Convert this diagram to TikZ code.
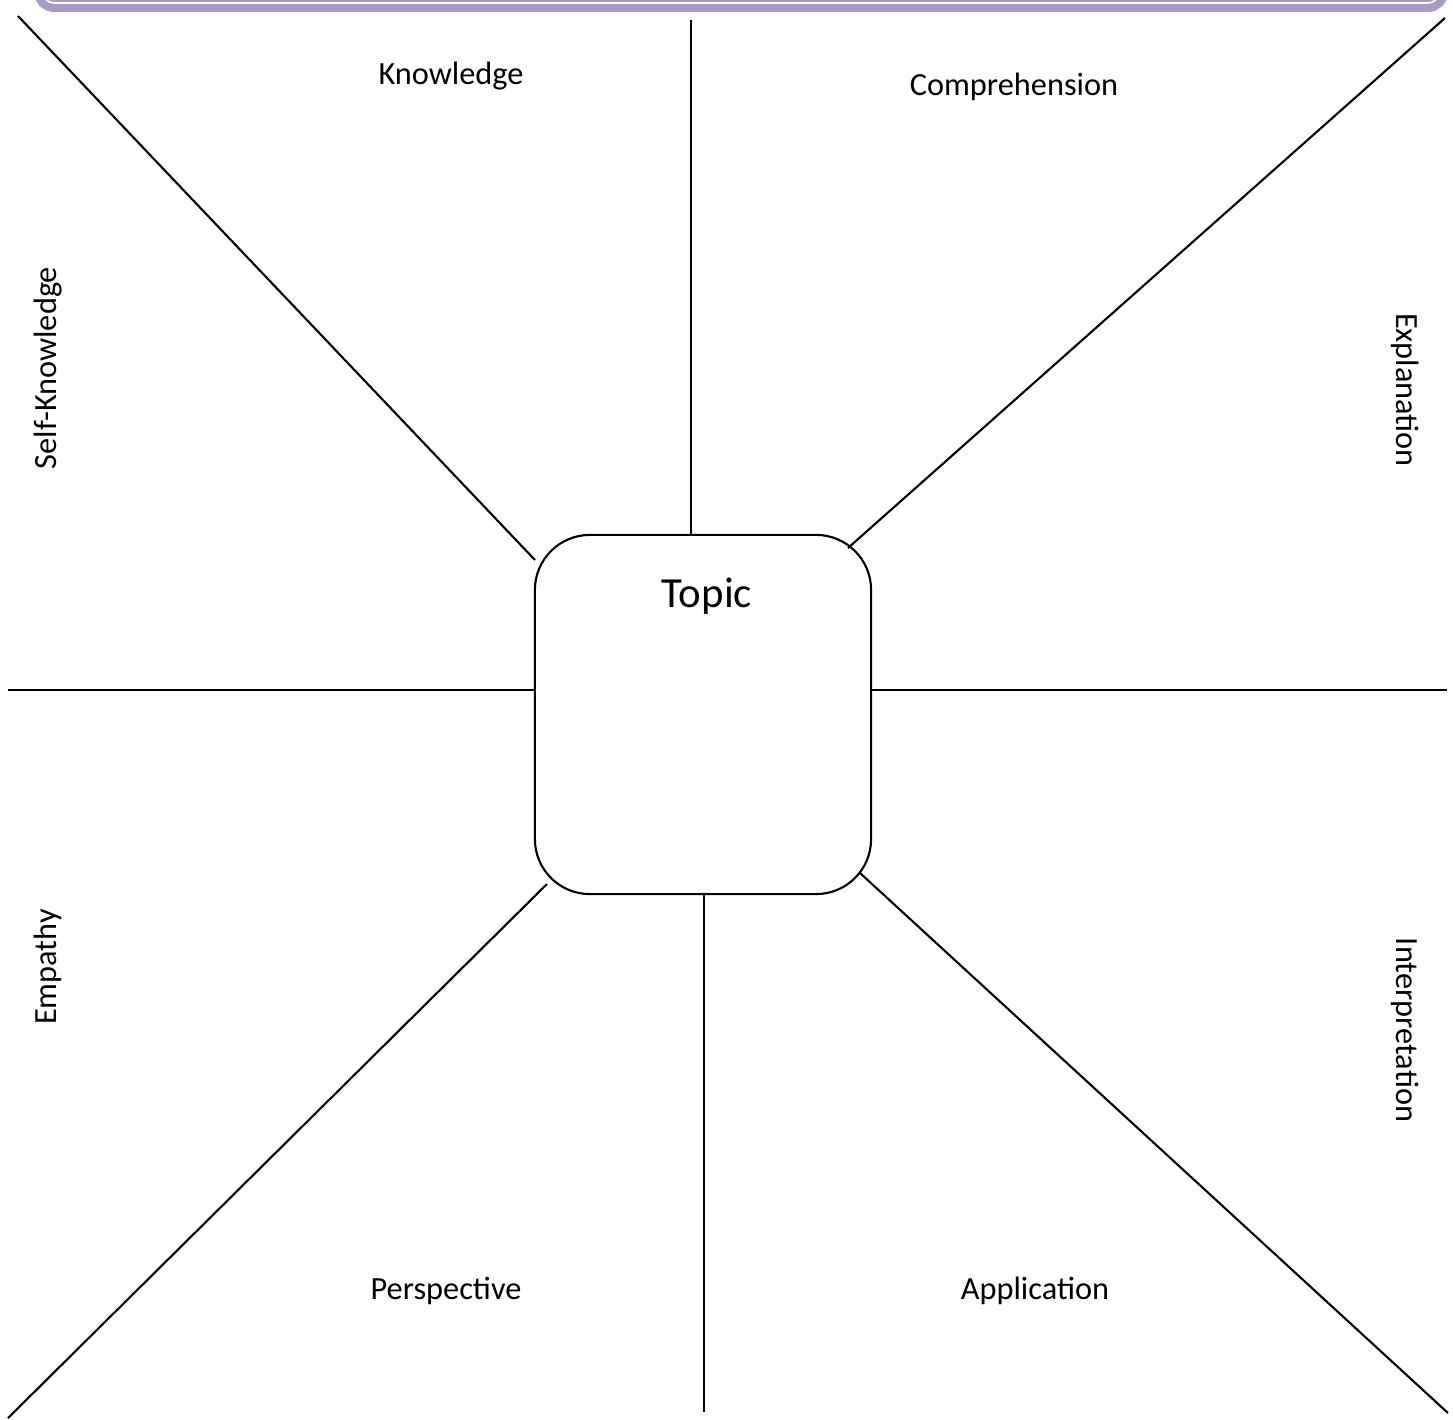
\documentclass[tikz,border=0pt]{standalone}
\usepackage{fontspec}
\setmainfont{Carlito}
\definecolor{bandpurple}{RGB}{169,154,200}
\begin{document}
\begin{tikzpicture}[x=0.01cm,y=-0.01cm,
  spoke/.style={line width=0.6pt,black},
  lab/.style={font=\fontsize{9.2pt}{11pt}\selectfont,inner sep=0pt},
  topicbox/.style={draw,line width=0.6pt,rounded corners=0.55cm,minimum width=3.36cm,minimum height=3.59cm,inner sep=0pt}]
\useasboundingbox (0,0) rectangle (1453,1420);
\clip (0,0) rectangle (1453,1420);
% top band
\draw[bandpurple,line width=3.4pt,rounded corners=0.14cm] (40,-300) rectangle (1442,6);
\draw[white,line width=0.45pt,rounded corners=0.11cm] (43,-300) rectangle (1439,3);
% central box
\node[topicbox] (box) at (703,714.5) {};
\node[font=\fontsize{12.2pt}{14pt}\selectfont,inner sep=0pt] (topic) at (707,596) {Topic};
% spoke ends
\coordinate (tA) at (691,20);   \coordinate (tB) at (691,535);
\coordinate (bA) at (704,894);  \coordinate (bB) at (704,1412);
\coordinate (lA) at (8,690);    \coordinate (lB) at (535,690);
\coordinate (rA) at (871,690);  \coordinate (rB) at (1447,690);
\coordinate (tlA) at (18,16);   \coordinate (tlB) at (535,560);
\coordinate (trA) at (1445,18); \coordinate (trB) at (848,548);
\coordinate (blA) at (8,1418);  \coordinate (blB) at (547,884);
\coordinate (brA) at (860,873); \coordinate (brB) at (1448,1413);
\draw[spoke] (tA) -- (tB);
\draw[spoke] (bA) -- (bB);
\draw[spoke] (lA) -- (lB);
\draw[spoke] (rA) -- (rB);
\draw[spoke] (tlA) -- (tlB);
\draw[spoke] (trA) -- (trB);
\draw[spoke] (blA) -- (blB);
\draw[spoke] (brA) -- (brB);
% labels
\node[lab] (kn) at (451,76) {Knowledge};
\node[lab] (co) at (1014,87) {Comprehension};
\node[lab,rotate=90] (sk) at (48,368) {Self-Knowledge};
\node[lab,rotate=-90] (ex) at (1405,390) {Explanation};
\node[lab,rotate=90] (em) at (48,967) {Empathy};
\node[lab,rotate=-90] (in) at (1405,1030) {Interpretation};
\node[lab] (pe) at (446,1291) {Perspective};
\node[lab] (ap) at (1035,1291) {Application};
\end{tikzpicture}
\end{document}
